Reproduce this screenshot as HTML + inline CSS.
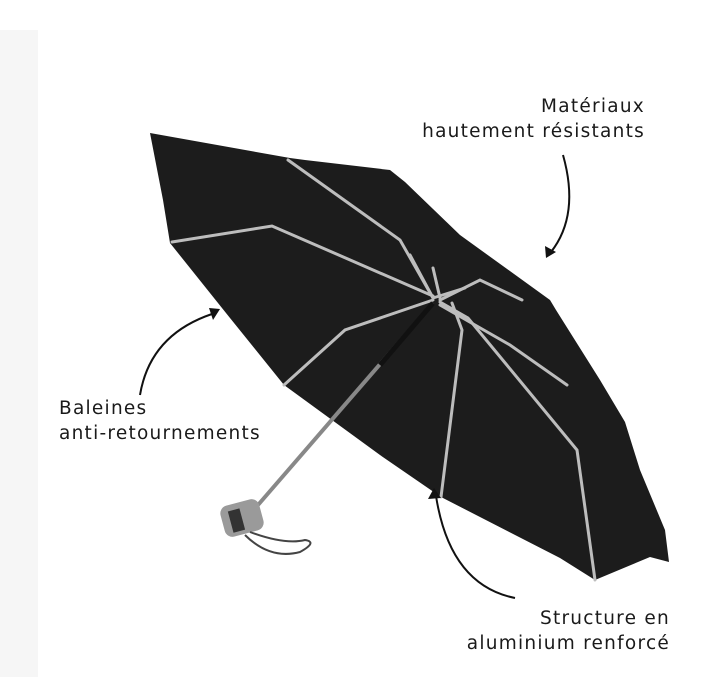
<!DOCTYPE html>
<html><head><meta charset="utf-8"><style>
html,body{margin:0;padding:0;background:#fff;}
body{width:703px;height:677px;position:relative;overflow:hidden;font-family:"DejaVu Sans",sans-serif;}
.strip{position:absolute;left:0;top:30px;width:38px;height:647px;background:#f6f6f6;}
.t{position:absolute;font-size:18.5px;letter-spacing:1.25px;color:#1a1a1a;line-height:25px;white-space:nowrap;}
</style></head><body>
<div class="strip"></div>
<svg width="703" height="677" style="position:absolute;left:0;top:0">
<polygon fill="#1c1c1c" points="150,133 290,158 305,160 390,170 405,182 460,235 550,300 556,310 600,380 625,422 640,470 665,530 669,562 650,557 595,580 560,558 441,497 380,455 284,385 230,318 170,243 163,200"/>
<g stroke="#bdbdbd" stroke-width="3" fill="none" stroke-linecap="round">
<polyline points="288,160 400,240 433,298"/>
<polyline points="172,242 272,226 433,296"/>
<polyline points="284,385 345,330 433,300"/>
<polyline points="441,497 462,330 452,303"/>
<polyline points="595,580 577,450 468,318 440,302"/>
<polyline points="567,385 510,345 440,305"/>
<polyline points="522,300 480,280 440,300"/>
<polyline points="410,255 433,298 465,288"/>
<line x1="433" y1="268" x2="440" y2="298"/>
</g>
<line x1="433" y1="303" x2="258" y2="505" stroke="#888" stroke-width="4"/>
<line x1="433" y1="303" x2="380" y2="365" stroke="#111" stroke-width="5"/>
<rect x="222" y="502" width="40" height="32" rx="8" fill="#9a9a9a" transform="rotate(-15 242 518)"/>
<rect x="230" y="508" width="12" height="22" fill="#333" transform="rotate(-15 242 518)"/>
<path d="M245,535 Q270,560 300,552 Q318,542 305,540 Q285,545 250,532" fill="none" stroke="#444" stroke-width="2"/>
<g stroke="#111" stroke-width="2" fill="none">
<path d="M563,155 Q580,215 551,252"/>
<path d="M140,395 Q150,335 212,314"/>
<path d="M515,598 Q450,585 436,496"/>
</g>
<g fill="#111">
<polygon points="546,258 545,246 556,252"/>
<polygon points="220,309 209,308 213,320"/>
<polygon points="434,488 428,499 441,498"/>
</g>
</svg>
<div class="t" style="right:58px;top:94px;text-align:right">Matériaux<br>hautement résistants</div>
<div class="t" style="left:59px;top:396px">Baleines<br>anti-retournements</div>
<div class="t" style="right:33px;top:606px;text-align:right">Structure en<br>aluminium renforcé</div>
</body></html>
